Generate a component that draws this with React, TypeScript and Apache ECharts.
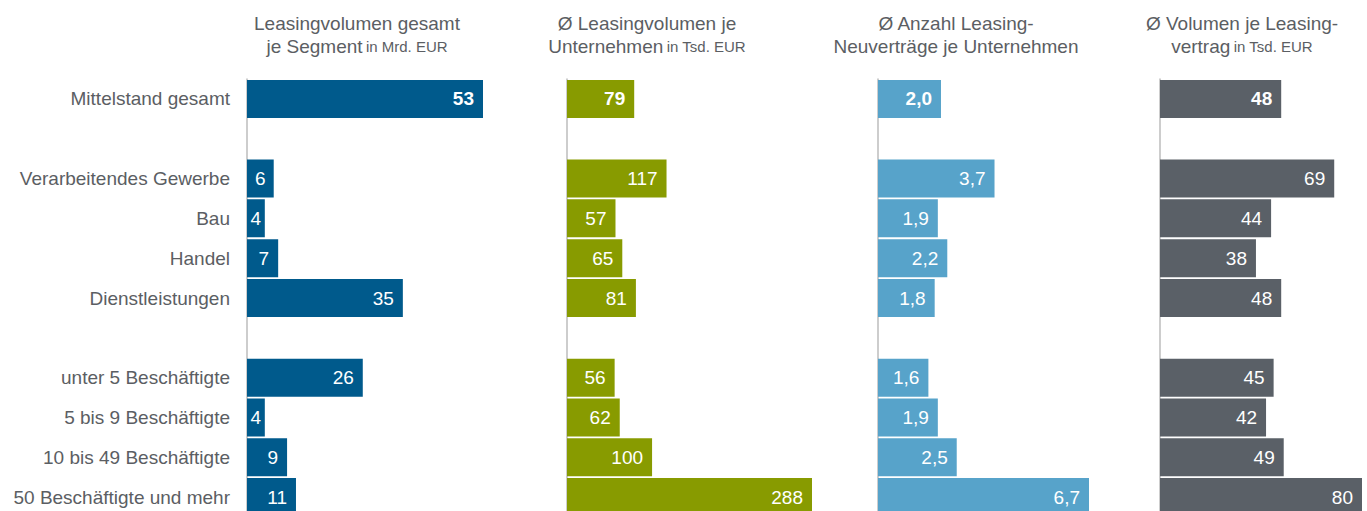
import React, { useEffect, useRef } from "react";
import * as echarts from "echarts";

const categories = [
  "Mittelstand gesamt",
  "",
  "Verarbeitendes Gewerbe",
  "Bau",
  "Handel",
  "Dienstleistungen",
  " ",
  "unter 5 Beschäftigte",
  "5 bis 9 Beschäftigte",
  "10 bis 49 Beschäftigte",
  "50 Beschäftigte und mehr",
];

const volumeTotal = [53, null, 6, 4, 7, 35, null, 26, 4, 9, 11];
const avgVolumePerCompany = [79, null, 117, 57, 65, 81, null, 56, 62, 100, 288];
const avgContractsPerCompany = [2.0, null, 3.7, 1.9, 2.2, 1.8, null, 1.6, 1.9, 2.5, 6.7];
const avgVolumePerContract = [48, null, 69, 44, 38, 48, null, 45, 42, 49, 80];

const panelTitles = [
  { line1: "Leasingvolumen gesamt", line2: "je Segment", unit: "in Mrd. EUR" },
  { line1: "Ø Leasingvolumen je", line2: "Unternehmen", unit: "in Tsd. EUR" },
  { line1: "Ø Anzahl Leasing-", line2: "Neuverträge je Unternehmen", unit: "" },
  { line1: "Ø Volumen je Leasing-", line2: "vertrag", unit: "in Tsd. EUR" },
];

const FONT = "'Liberation Sans', Arial, sans-serif";
const TEXT_GRAY = "#5b5e63";

export default function App() {
  const ref = useRef<HTMLDivElement>(null);

  useEffect(() => {
    document.body.style.margin = "0";
    if (!ref.current) return;
    const chart = echarts.init(ref.current, null, { renderer: "svg" });

    const panels = [
      { data: volumeTotal, color: "#005a8c", left: 247, width: 236, decimals: 0, titleX: 357 },
      { data: avgVolumePerCompany, color: "#889b00", left: 567, width: 245, decimals: 0, titleX: 647 },
      { data: avgContractsPerCompany, color: "#57a3ca", left: 878, width: 211, decimals: 1, titleX: 956 },
      { data: avgVolumePerContract, color: "#5a6067", left: 1160, width: 202, decimals: 0, titleX: 1242 },
    ];

    const maxOf = (arr: (number | null)[]) =>
      Math.max(...(arr.filter((v) => v != null) as number[]));

    const grids = panels.map((p) => ({
      left: p.left,
      width: p.width,
      top: 79,
      height: 438,
    }));

    const xAxes = panels.map((p, i) => ({
      type: "value",
      gridIndex: i,
      min: 0,
      max: maxOf(p.data),
      show: false,
    }));

    const yAxes = panels.map((p, i) => ({
      type: "category",
      gridIndex: i,
      data: categories,
      inverse: true,
      axisLine: { show: true, lineStyle: { color: "#bdbdbd", width: 1.5 } },
      axisTick: { show: false },
      axisLabel: {
        show: i === 0,
        fontFamily: FONT,
        fontSize: 19,
        color: TEXT_GRAY,
        margin: 17,
      },
      splitLine: { show: false },
    }));

    const series = panels.map((p, i) => {
      const max = maxOf(p.data);
      return {
        type: "bar",
        xAxisIndex: i,
        yAxisIndex: i,
        barWidth: 38,
        itemStyle: { color: p.color },
        label: {
          show: true,
          position: "insideRight",
          distance: 9,
          color: "#ffffff",
          fontFamily: FONT,
          fontSize: 19,
          formatter: (params: any) =>
            params.value == null
              ? ""
              : Number(params.value).toFixed(p.decimals).replace(".", ","),
        },
        data: p.data.map((v, idx) => {
          if (v == null) return v;
          const px = (v / max) * p.width;
          const label: any = {};
          if (idx === 0) label.fontWeight = "bold";
          if (px < 30) label.position = "inside";
          return Object.keys(label).length ? { value: v, label } : v;
        }),
      };
    });

    const graphics = panels.map((p, i) => {
      const t = panelTitles[i];
      const line2 = t.unit ? `{a|${t.line2}} {b|${t.unit}}` : `{a|${t.line2}}`;
      return {
        type: "text",
        x: p.titleX,
        y: 12,
        style: {
          text: `{a|${t.line1}}\n${line2}`,
          align: "center",
          verticalAlign: "top",
          fill: TEXT_GRAY,
          rich: {
            a: { fontFamily: FONT, fontSize: 19, fill: TEXT_GRAY, lineHeight: 23 },
            b: { fontFamily: FONT, fontSize: 15, fill: TEXT_GRAY, lineHeight: 23 },
          },
        },
      };
    });

    chart.setOption({
      animation: false,
      backgroundColor: "#ffffff",
      grid: grids,
      xAxis: xAxes,
      yAxis: yAxes,
      series,
      graphic: graphics,
    } as any);

    return () => chart.dispose();
  }, []);

  return (
    <div style={{ width: 1367, height: 511, overflow: "hidden" }}>
      <div ref={ref} style={{ width: 1367, height: 540 }} />
    </div>
  );
}
